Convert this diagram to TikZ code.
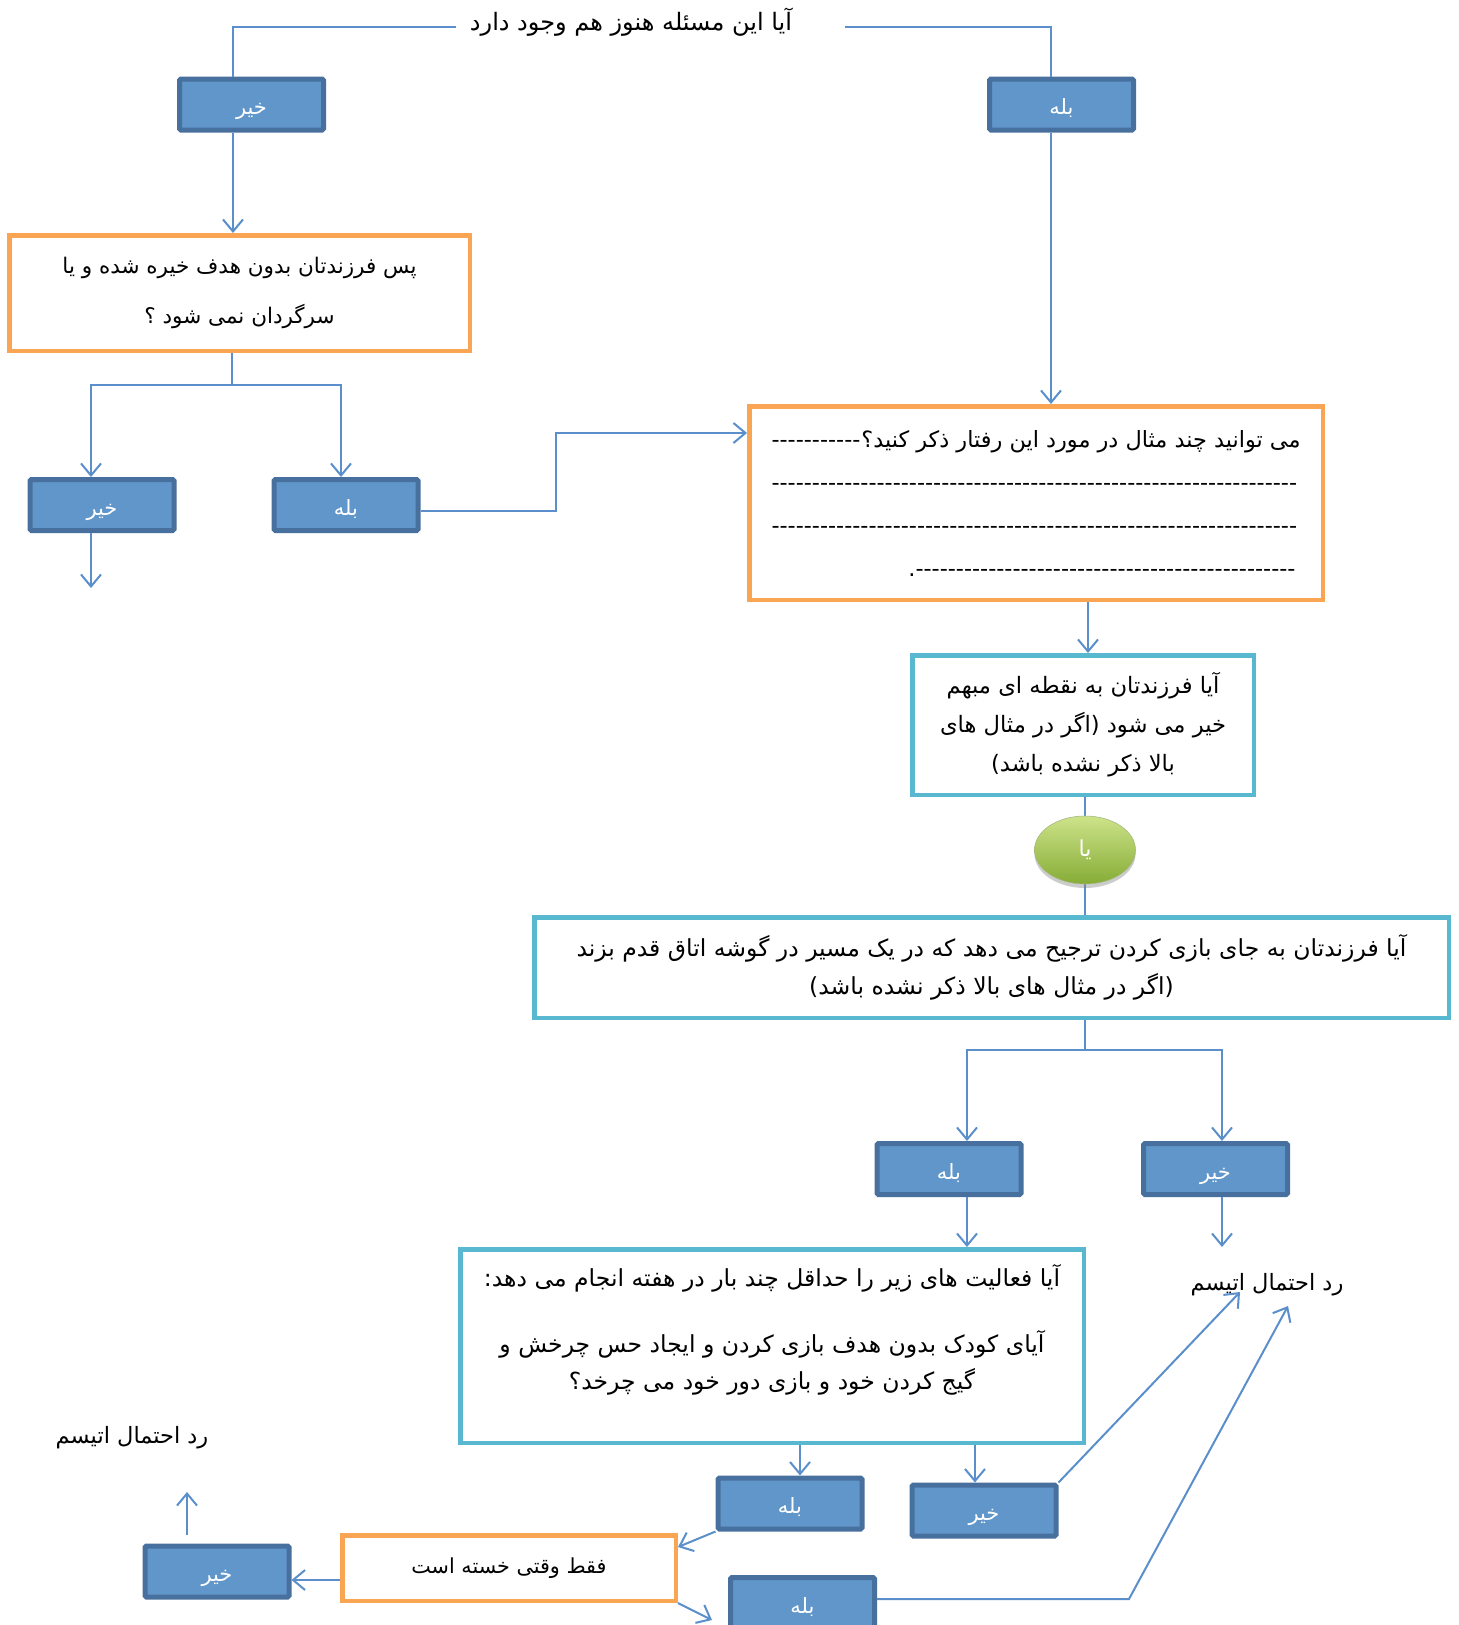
\documentclass[tikz,border=0pt]{standalone}
\usepackage{fontspec}
\usetikzlibrary{arrows.meta,shapes.geometric,shadows}
\TeXXeTstate=1
\newfontfamily\fa[Script=Arabic]{DejaVu Sans}
\definecolor{bfill}{HTML}{6096C9}
\definecolor{bdraw}{HTML}{47709E}
\definecolor{obord}{HTML}{F9A553}
\definecolor{cbord}{HTML}{58B8CF}
\definecolor{conn}{HTML}{5A8FCB}
\definecolor{gtop}{HTML}{CDE38A}
\definecolor{gbot}{HTML}{86AC36}
\newcommand\farl[1]{\beginR #1\endR}
\newcommand\dashfill{\leaders\hbox{-}\hfill}
\begin{document}
\begin{tikzpicture}[x=1pt,y=-1pt,
  bluebox/.style={draw=bdraw, fill=bfill, line width=5pt, rounded corners=1.5pt,
    minimum width=144pt, minimum height=51pt, inner sep=0pt, text=white,
    text height=20pt, text depth=0pt,
    font=\fa\fontsize{21}{24}\selectfont},
  orbox/.style={draw=obord, line width=4.5pt, inner sep=0pt, align=center},
  cybox/.style={draw=cbord, line width=4.5pt, inner sep=0pt, align=center},
  txt/.style={inner sep=0pt, align=center, font=\fa\fontsize{22.5}{26}\selectfont},
  cline/.style={draw=conn, line width=2pt},
  carr/.style={cline, -{Straight Barb[length=12pt,width=20pt]}},
]
\useasboundingbox (0,0) rectangle (1459,1625);
\fill[white] (0,0) rectangle (1459,1625);

% helper coordinates
\coordinate (tl) at (456,27);
\coordinate (tr) at (845,27);
\coordinate (c233) at (233,0);
\coordinate (c1051) at (1051,0);
\coordinate (j1) at (232,385);
\coordinate (c91) at (91,0);
\coordinate (c341) at (341,0);
\coordinate (e1) at (91,588);
\coordinate (k1) at (556,511);
\coordinate (k2) at (556,433);
\coordinate (c1088) at (1088,0);
\coordinate (j2) at (1085,1050);
\coordinate (c967) at (967,0);
\coordinate (c1222) at (1222,0);
\coordinate (e2) at (1222,1247);
\coordinate (c800) at (800,0);
\coordinate (c975) at (975,0);
\coordinate (e3) at (1240,1292);
\coordinate (k3) at (1129,1599);
\coordinate (e4) at (1288,1306);
\coordinate (c1547) at (0,1547);
\coordinate (e6) at (712,1620);
\coordinate (c1580) at (0,1580);
\coordinate (c187) at (187,0);
\coordinate (e8) at (187,1492);

% nodes
\node[txt, font=\fa\fontsize{24}{28}\selectfont] (title) at (631,22) {\farl{آیا این مسئله هنوز هم وجود دارد}};
\node[bluebox] (no1) at (251.5,104.5) {\farl{خیر}};
\node[bluebox] (yes1) at (1061.5,104.5) {\farl{بله}};

\node[orbox, minimum width=460.5pt, minimum height=115.5pt,
  font=\fa\fontsize{21.5}{50}\selectfont] (orange1) at (239.5,293)
  {\farl{پس فرزندتان بدون هدف خیره شده و یا}\\\farl{سرگردان نمی شود ؟}};

\node[bluebox] (no2) at (102,505) {\farl{خیر}};
\node[bluebox] (yes2) at (346,505) {\farl{بله}};

\node[orbox, minimum width=573.5pt, minimum height=193.5pt,
  font=\fa\fontsize{22.4}{43}\selectfont] (orange2) at (1036,503)
  {\hbox to 529pt{\dashfill\farl{می توانید چند مثال در مورد این رفتار ذکر کنید؟}}\\
   \hbox to 529pt{\dashfill}\\
   \hbox to 529pt{\dashfill}\\
   \hbox to 529pt{\hfill.\hbox to 385pt{\dashfill}}};

\node[cybox, minimum width=341.5pt, minimum height=139.5pt,
  font=\fa\fontsize{22.6}{39}\selectfont] (cyan1) at (1083,725)
  {\farl{آیا فرزندتان به نقطه ای مبهم}\\\farl{خیر می شود (اگر در مثال های}\\\farl{بالا ذکر نشده باشد)}};

\node[cybox, minimum width=914.5pt, minimum height=100.5pt,
  font=\fa\fontsize{23.5}{38}\selectfont] (cyan2) at (991.5,967.5)
  {\farl{آیا فرزندتان به جای بازی کردن ترجیح می دهد که در یک مسیر در گوشه اتاق قدم بزند}\\\farl{(اگر در مثال های بالا ذکر نشده باشد)}};

% line through the ellipse (behind it)
\draw[cline] (cyan1.south -| j2) -- (cyan2.north -| j2);
\node[ellipse, minimum width=101pt, minimum height=68pt, inner sep=0pt,
  top color=gtop, bottom color=gbot, draw=gbot!80!black!60, line width=0.6pt,
  drop shadow={opacity=0.4, shadow xshift=0pt, shadow yshift=-4pt},
  text=white, font=\fa\fontsize{22}{26}\selectfont] (ell) at (1085,850) {\farl{یا}};

\node[bluebox] (yes3) at (949,1169) {\farl{بله}};
\node[bluebox] (no3) at (1215.5,1169) {\farl{خیر}};

\node[cybox, minimum width=623.5pt, minimum height=193.5pt] (cyan3) at (772,1346) {};
\node[txt, font=\fa\fontsize{23.5}{37}\selectfont] (cyan3t) at (772,1330)
  {\farl{آیا فعالیت های زیر را حداقل چند بار در  هفته  انجام می دهد:}\\[29pt]
   \farl{آیای کودک بدون هدف بازی کردن و ایجاد حس چرخش و}\\
   \farl{گیج کردن خود و بازی دور خود می چرخد؟}};

\node[txt] (rd1) at (1267,1285) {\farl{رد احتمال اتیسم}};

\node[bluebox] (yes4) at (790,1503.5) {\farl{بله}};
\node[bluebox] (no4) at (984,1510.5) {\farl{خیر}};
\node[bluebox] (yes5) at (802.5,1603) {\farl{بله}};

\node[orbox, minimum width=333.5pt, minimum height=65.5pt,
  font=\fa\fontsize{20.7}{24}\selectfont] (orange3) at (509,1568) {\farl{فقط وقتی خسته است}};

\node[bluebox] (no5) at (217,1571.5) {\farl{خیر}};
\node[txt] (rd2) at (132,1438) {\farl{رد احتمال اتیسم}};

% connectors
\draw[cline] (tl) -| (no1.north -| c233);
\draw[cline] (tr) -| (yes1.north -| c1051);
\draw[carr] (no1.south -| c233) -- (orange1.north -| c233);
\draw[carr] (yes1.south -| c1051) -- (orange2.north -| c1051);
\draw[cline] (orange1.south -| j1) -- (j1);
\draw[carr] (j1) -| (no2.north -| c91);
\draw[carr] (j1) -| (yes2.north -| c341);
\draw[carr] (no2.south -| c91) -- (e1);
\draw[carr] (yes2.east |- k1) -- (k1) -- (k2) -- (orange2.west |- k2);
\draw[carr] (orange2.south -| c1088) -- (cyan1.north -| c1088);
\draw[cline] (cyan2.south -| j2) -- (j2);
\draw[carr] (j2) -| (yes3.north -| c967);
\draw[carr] (j2) -| (no3.north -| c1222);
\draw[carr] (yes3.south -| c967) -- (cyan3.north -| c967);
\draw[carr] (no3.south -| c1222) -- (e2);
\draw[carr] (cyan3.south -| c800) -- (yes4.north -| c800);
\draw[carr] (cyan3.south -| c975) -- (no4.north -| c975);
\draw[carr] (no4.north east) -- (e3);
\draw[carr] (yes5.east |- k3) -- (k3) -- (e4);
\draw[carr] (yes4.south west) -- (orange3.east |- c1547);
\draw[carr] (orange3.south east) -- (e6);
\draw[carr] (orange3.west |- c1580) -- (no5.east |- c1580);
\draw[carr, shorten <=9pt] (no5.north -| c187) -- (e8);
\end{tikzpicture}
\end{document}
